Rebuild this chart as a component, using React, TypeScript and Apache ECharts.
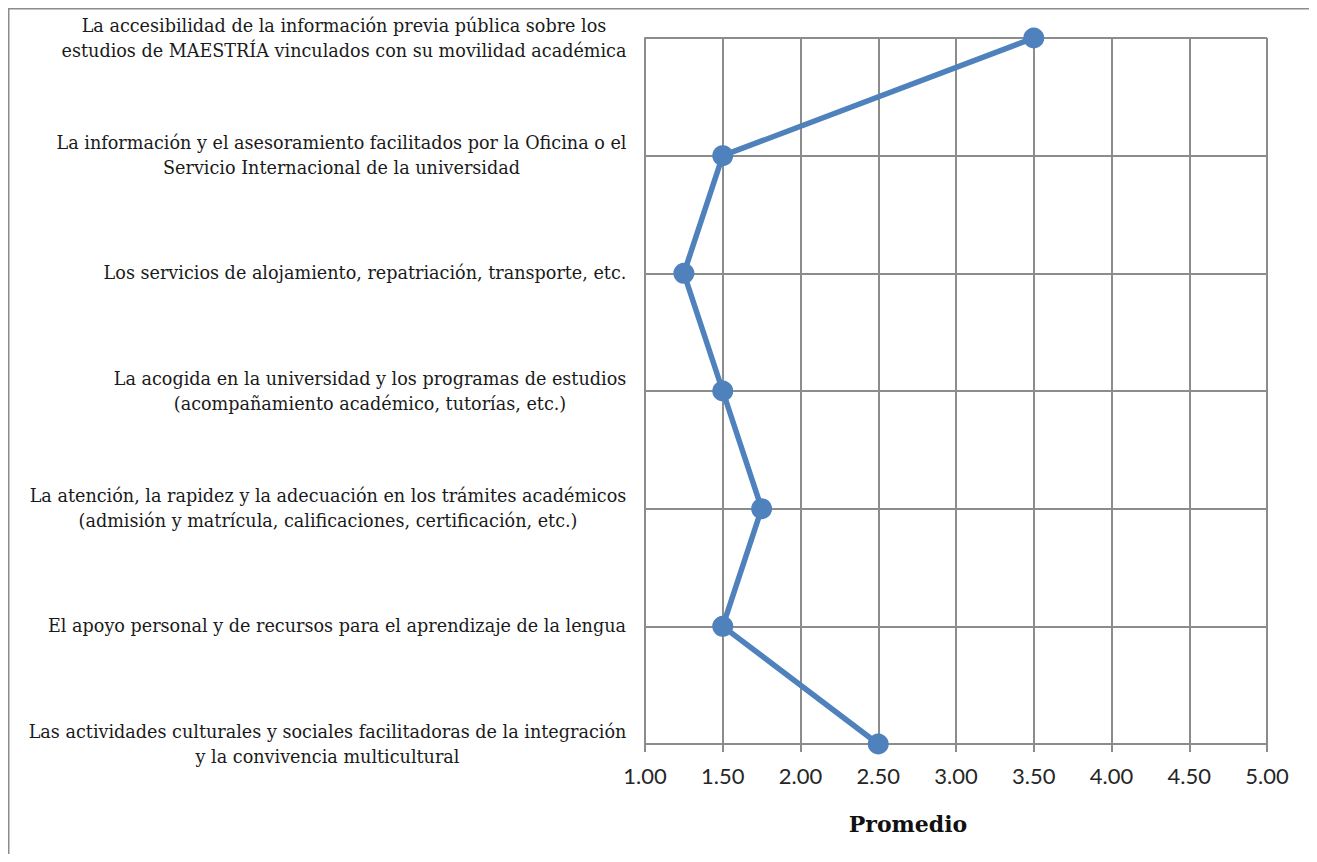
import React, { useEffect, useRef } from "react";
import * as echarts from "echarts";

// Survey items (top to bottom) and their mean scores
const items: string[] = [
  "La accesibilidad de la información previa pública sobre los\nestudios de MAESTRÍA vinculados con su movilidad académica",
  "La información y el asesoramiento facilitados por la Oficina o el\nServicio Internacional de la universidad",
  "Los servicios de alojamiento, repatriación, transporte, etc.",
  "La acogida en la universidad y los programas de estudios\n(acompañamiento académico, tutorías, etc.)",
  "La atención, la rapidez y la adecuación en los trámites académicos\n(admisión y matrícula, calificaciones, certificación, etc.)",
  "El apoyo personal y de recursos para el aprendizaje de la lengua",
  "Las actividades culturales y sociales facilitadoras de la integración\ny la convivencia multicultural",
];
const promedio: number[] = [3.5, 1.5, 1.25, 1.5, 1.75, 1.5, 2.5];
const axisMin = 1;
const axisMax = 5;
const axisStep = 0.5;
const axisTitle = "Promedio";

const LABEL_FONT = "DejaVu Serif";
const LABEL_SIZE = 17.6;
const GRID_COLOR = "#8c8c8c";
const LINE_COLOR = "#4f81bd";

function measureBlockWidths(texts: string[]): number[] {
  const canvas = document.createElement("canvas");
  const ctx = canvas.getContext("2d");
  if (!ctx) return texts.map(() => 0);
  ctx.font = `${LABEL_SIZE}px "${LABEL_FONT}"`;
  return texts.map((t) =>
    Math.ceil(Math.max(...t.split("\n").map((l) => ctx.measureText(l).width))) + 1
  );
}

export default function App() {
  const ref = useRef<HTMLDivElement>(null);

  useEffect(() => {
    if (!ref.current) return;
    const chart = echarts.init(ref.current, undefined, { renderer: "svg" });

    // each label block is right-aligned to the axis, its lines centred within the block
    const widths = measureBlockWidths(items);
    const rich: Record<string, any> = {};
    widths.forEach((w, i) => {
      rich["c" + i] = {
        width: w,
        align: "center",
        fontFamily: LABEL_FONT,
        fontSize: LABEL_SIZE,
        lineHeight: 25,
        color: "#1a1a1a",
      };
    });

    chart.setOption({
      animation: false,
      backgroundColor: "#ffffff",
      grid: { left: 637, top: 30, width: 622, height: 706 },
      xAxis: {
        type: "value",
        min: axisMin,
        max: axisMax,
        interval: axisStep,
        axisLine: { show: true, lineStyle: { color: GRID_COLOR, width: 2 } },
        axisTick: { show: true, length: 8, lineStyle: { color: GRID_COLOR, width: 2 } },
        splitLine: { show: true, lineStyle: { color: GRID_COLOR, width: 2 } },
        axisLabel: {
          formatter: (v: number) => v.toFixed(2),
          fontFamily: "Lato",
          fontSize: 22,
          color: "#262626",
          margin: 20,
        },
      },
      yAxis: {
        type: "category",
        data: items,
        inverse: true,
        boundaryGap: false,
        axisLine: { show: true, lineStyle: { color: GRID_COLOR, width: 2 } },
        axisTick: { show: false },
        splitLine: { show: true, lineStyle: { color: GRID_COLOR, width: 2 } },
        axisLabel: {
          margin: 18,
          align: "right",
          interval: 0,
          formatter: (v: string, i: number) =>
            v
              .split("\n")
              .map((l) => `{c${i}|${l}}`)
              .join("\n"),
          rich,
        },
      },
      series: [
        {
          type: "line",
          data: promedio,
          symbol: "circle",
          symbolSize: 21,
          lineStyle: { color: LINE_COLOR, width: 5.5 },
          itemStyle: { color: LINE_COLOR },
        },
      ],
      graphic: [
        {
          type: "line",
          shape: { x1: 0, y1: 0.75, x2: 1309, y2: 0.75 },
          style: { stroke: GRID_COLOR, lineWidth: 1.5 },
        },
        {
          type: "line",
          shape: { x1: 0.75, y1: 0, x2: 0.75, y2: 846 },
          style: { stroke: GRID_COLOR, lineWidth: 1.5 },
        },
        {
          type: "text",
          x: 900,
          y: 816,
          style: {
            text: axisTitle,
            fontFamily: LABEL_FONT,
            fontWeight: "bold",
            fontSize: 22,
            fill: "#111111",
            align: "center",
            verticalAlign: "middle",
          },
        },
      ],
    });

    return () => chart.dispose();
  }, []);

  return <div ref={ref} style={{ width: 1309, height: 846 }} />;
}
